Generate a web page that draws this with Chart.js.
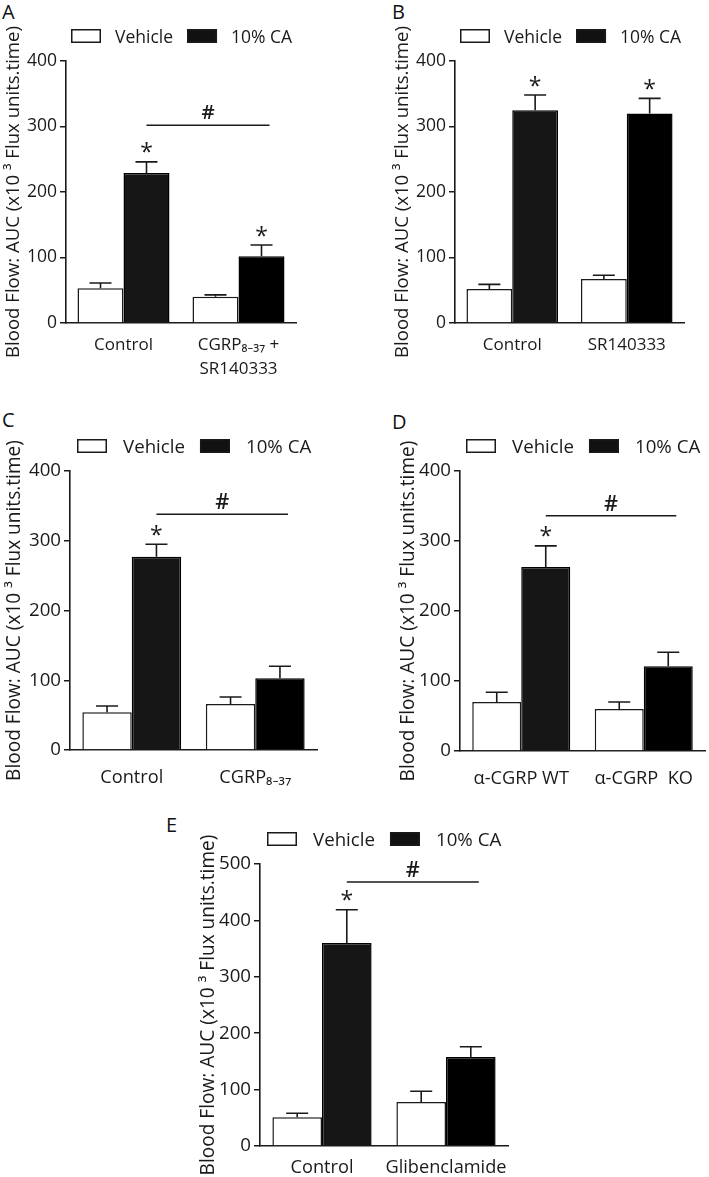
<!DOCTYPE html>
<html>
<head>
<meta charset="utf-8">
<script src="https://cdn.jsdelivr.net/npm/chart.js@4.4.0/dist/chart.umd.min.js"></script>
<style>
  body { margin: 0; background: #fff; width: 709px; height: 1177px; position: relative; overflow: hidden; }
  canvas { position: absolute; }
  .tag { position: absolute; font: 20px "Open Sans", sans-serif; line-height: 21px; color: #111; }
</style>
</head>
<body>
<div class="tag" style="left:2px;top:1px">A</div>
<div class="tag" style="left:392px;top:1px">B</div>
<div class="tag" style="left:2px;top:409px">C</div>
<div class="tag" style="left:392px;top:411px">D</div>
<div class="tag" style="left:166px;top:814px">E</div>
<canvas id="chart-a" width="350" height="385" style="left:0;top:0"></canvas>
<canvas id="chart-b" width="320" height="385" style="left:389px;top:0"></canvas>
<canvas id="chart-c" width="355" height="410" style="left:0;top:380px"></canvas>
<canvas id="chart-d" width="315" height="410" style="left:394px;top:380px"></canvas>
<canvas id="chart-e" width="340" height="397" style="left:194px;top:780px"></canvas>
<script>
const seriesNames = ["Vehicle", "10% CA"];
const yTitle = "Blood Flow: AUC (x10 \u00b3 Flux units.time)";

// A
const groupsA = ["Control", ["CGRP\u2088\u208b\u2083\u2087 +", "SR140333"]];
const vehicleA = [53, 40];
const vehicleErrA = [8, 3];
const caA = [229, 102];
const caErrA = [17, 17];
const starsA = [true, true];
const hashA = 302;

// B
const groupsB = ["Control", "SR140333"];
const vehicleB = [52, 67];
const vehicleErrB = [7, 6];
const caB = [325, 320];
const caErrB = [23, 23];
const starsB = [true, true];
const hashB = null;

// C
const groupsC = ["Control", "CGRP\u2088\u208b\u2083\u2087"];
const vehicleC = [54, 66];
const vehicleErrC = [9, 10];
const caC = [277, 103];
const caErrC = [18, 17];
const starsC = [true, false];
const hashC = 338;

// D
const groupsD = ["\u03b1-CGRP WT", "\u03b1-CGRP  KO"];
const vehicleD = [70, 60];
const vehicleErrD = [14, 10];
const caD = [263, 121];
const caErrD = [30, 20];
const starsD = [true, false];
const hashD = 336;

// E
const groupsE = ["Control", "Glibenclamide"];
const vehicleE = [51, 78];
const vehicleErrE = [7, 19];
const caE = [360, 158];
const caErrE = [59, 18];
const starsE = [true, false];
const hashE = 468;

const yMaxAD = 400;
const yMaxE = 500;

const FONT = '"Open Sans", "Noto Sans", "DejaVu Sans", sans-serif';
const INK = "#1a1a1a";
Chart.defaults.font.family = FONT;
Chart.defaults.color = INK;

// draw a glyph with its visible centre at (x, cy)
function centredGlyph(ctx, s, x, cy) {
  const m = ctx.measureText(s);
  ctx.fillText(s, x, cy + (m.actualBoundingBoxAscent - m.actualBoundingBoxDescent) / 2);
}

// error bars, stars, # line and the legend
const extras = {
  id: "extras",
  afterDatasetsDraw(chart, args, opts) {
    const ctx = chart.ctx;
    const y = chart.scales.y;
    const area = chart.chartArea;
    ctx.save();
    ctx.strokeStyle = INK;
    ctx.fillStyle = INK;
    ctx.lineWidth = 1.6;
    ctx.textAlign = "center";
    ctx.textBaseline = "alphabetic";
    chart.data.datasets.forEach((ds, di) => {
      const meta = chart.getDatasetMeta(di);
      meta.data.forEach((bar, i) => {
        const top = y.getPixelForValue(ds.data[i] + ds.err[i]);
        ctx.beginPath();
        ctx.moveTo(bar.x, bar.y);
        ctx.lineTo(bar.x, top);
        ctx.moveTo(bar.x - 11, top);
        ctx.lineTo(bar.x + 11, top);
        ctx.stroke();
        if (ds.stars && ds.stars[i]) {
          ctx.font = "23px " + FONT;
          centredGlyph(ctx, "*", bar.x, top - 14);
        }
      });
    });
    if (opts.hash != null) {
      const ca = chart.getDatasetMeta(1).data;
      const hy = y.getPixelForValue(opts.hash);
      const x1 = ca[0].x, x2 = ca[1].x + 8;
      ctx.beginPath();
      ctx.moveTo(x1, hy);
      ctx.lineTo(x2, hy);
      ctx.stroke();
      ctx.font = "600 " + (opts.fs + 3) + "px " + FONT;
      centredGlyph(ctx, "#", (x1 + x2) / 2, hy - 13);
    }
    // legend
    const by = area.top - 32;
    ctx.font = opts.fs + "px " + FONT;
    ctx.textAlign = "left";
    ctx.lineWidth = 1.5;
    let x = area.left + opts.legendX;
    chart.data.datasets.forEach((ds, di) => {
      ctx.fillStyle = di === 0 ? "#fff" : "#111";
      ctx.fillRect(x, by, 30, 14);
      ctx.strokeStyle = INK;
      ctx.strokeRect(x + 0.75, by + 0.75, 28.5, 12.5);
      ctx.fillStyle = INK;
      ctx.fillText(ds.label, x + 30 + opts.gap, by + 14);
      x += 30 + opts.gap + ctx.measureText(ds.label).width + opts.gap2;
    });
    ctx.restore();
  }
};

function drawPanel(id, p) {
  const canvas = document.getElementById(id);
  const W = canvas.width, H = canvas.height;
  new Chart(canvas, {
    type: "bar",
    data: {
      labels: p.groups,
      datasets: [
        {
          label: seriesNames[0],
          data: p.vehicle,
          err: p.vehicleErr,
          backgroundColor: "#ffffff",
          borderColor: INK,
          borderWidth: 1.5,
        },
        {
          label: seriesNames[1],
          data: p.ca,
          err: p.caErr,
          stars: p.stars,
          backgroundColor: ["#161616", "#000000"],
          borderColor: "#000",
          borderWidth: 1.5,
        },
      ],
    },
    options: {
      responsive: false,
      animation: false,
      categoryPercentage: 0.8,
      barPercentage: 1.0,
      layout: {
        padding: { left: 0, top: p.area[2], right: W - p.area[1], bottom: 0 },
      },
      scales: {
        x: {
          grid: { display: false },
          border: { display: true, color: INK, width: 1.6 },
          ticks: { padding: p.xPad, font: { size: p.fs - 0.5, lineHeight: 1.4 }, color: INK, maxRotation: 0, autoSkip: false },
          afterFit: (s) => { s.height = H - p.area[3]; },
        },
        y: {
          min: 0,
          max: p.yMax,
          ticks: { stepSize: 100, padding: 3, font: { size: p.fs }, color: INK },
          grid: { drawOnChartArea: false, drawTicks: true, tickLength: 6, color: INK, lineWidth: 1.5 },
          border: { display: true, color: INK, width: 1.6 },
          title: { display: true, text: yTitle, font: { size: p.titleSize }, color: INK, padding: { top: 3, bottom: 0 } },
          afterFit: (s) => { s.width = p.area[0]; },
        },
      },
      plugins: {
        legend: { display: false },
        tooltip: { enabled: false },
        extras: { hash: p.hash, fs: p.fs, legendX: p.legendX, gap: p.gap, gap2: p.gap2 },
      },
    },
    plugins: [extras],
  });
}

// area: [left, right, top, bottom] of the plot inside each canvas
drawPanel("chart-a", { groups: groupsA, vehicle: vehicleA, vehicleErr: vehicleErrA, ca: caA, caErr: caErrA, stars: starsA, hash: hashA, yMax: yMaxAD, fs: 17.5, titleSize: 18.6, xPad: 2, area: [66, 296, 61, 323], legendX: 5, gap: 14, gap2: 14 });
drawPanel("chart-b", { groups: groupsB, vehicle: vehicleB, vehicleErr: vehicleErrB, ca: caB, caErr: caErrB, stars: starsB, hash: hashB, yMax: yMaxAD, fs: 17.5, titleSize: 18.6, xPad: 2, area: [66, 295, 61, 323], legendX: 5, gap: 14, gap2: 14 });
drawPanel("chart-c", { groups: groupsC, vehicle: vehicleC, vehicleErr: vehicleErrC, ca: caC, caErr: caErrC, stars: starsC, hash: hashC, yMax: yMaxAD, fs: 18.7, titleSize: 19.1, xPad: 7, area: [70, 317, 91, 370], legendX: 7, gap: 16, gap2: 15 });
drawPanel("chart-d", { groups: groupsD, vehicle: vehicleD, vehicleErr: vehicleErrD, ca: caD, caErr: caErrD, stars: starsD, hash: hashD, yMax: yMaxAD, fs: 18.7, titleSize: 19.1, xPad: 7, area: [66, 311, 91, 371], legendX: 6, gap: 16, gap2: 15 });
drawPanel("chart-e", { groups: groupsE, vehicle: vehicleE, vehicleErr: vehicleErrE, ca: caE, caErr: caErrE, stars: starsE, hash: hashE, yMax: yMaxE, fs: 18.7, titleSize: 19.1, xPad: 1, area: [66, 314, 84, 366], legendX: 7, gap: 16, gap2: 15 });
</script>
</body>
</html>
